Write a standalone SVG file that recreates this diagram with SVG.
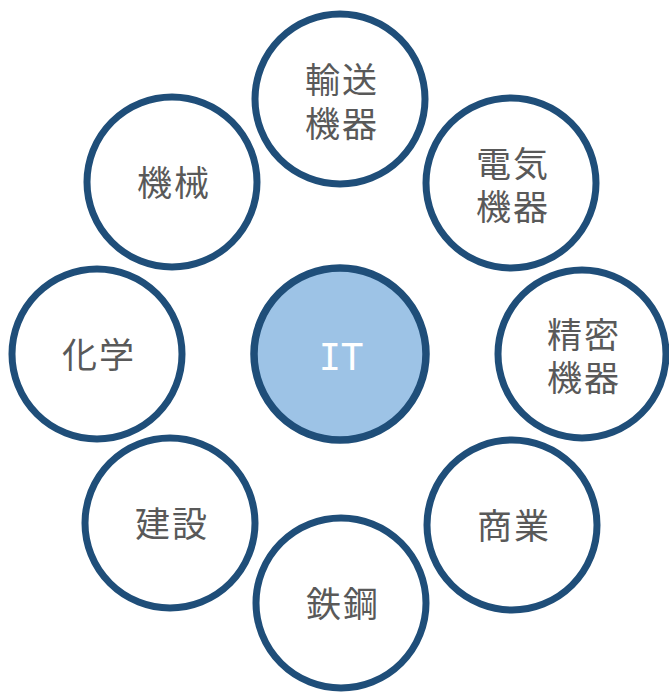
<svg xmlns="http://www.w3.org/2000/svg" width="669" height="694" viewBox="0 0 669 694">
<style>
.n{fill:#FFFFFF;stroke:#1F4E79;stroke-width:7}
.c{fill:#9DC3E6;stroke:#1F4E79;stroke-width:7.5}
.t{font-family:"Noto Sans CJK JP","Noto Sans CJK SC",sans-serif;font-size:35px;fill:#595959;text-anchor:middle;letter-spacing:2px}
.it{font-family:"DejaVu Sans Mono","Noto Sans CJK JP",monospace;font-size:37px;fill:#FFFFFF;text-anchor:middle}
</style>
<rect width="669" height="694" fill="#FFFFFF"/>
<g id="connectors"></g>
<g id="node-it"><circle class="c" cx="340" cy="354" r="86"/><text class="it" x="341" y="370">IT</text></g>
<g id="node-yuso"><circle class="n" cx="340" cy="99" r="85"/><text class="t"><tspan x="342" y="93">輸送</tspan><tspan x="342" y="137">機器</tspan></text></g>
<g id="node-denki"><circle class="n" cx="511" cy="183" r="85"/><text class="t"><tspan x="513" y="177">電気</tspan><tspan x="513" y="220">機器</tspan></text></g>
<g id="node-seimitsu"><circle class="n" cx="582" cy="354" r="84"/><text class="t"><tspan x="584" y="348">精密</tspan><tspan x="584" y="391">機器</tspan></text></g>
<g id="node-shogyo"><circle class="n" cx="512" cy="525" r="85"/><text class="t" x="514" y="539">商業</text></g>
<g id="node-tekko"><circle class="n" cx="341" cy="603" r="85"/><text class="t" x="343" y="617">鉄鋼</text></g>
<g id="node-kensetsu"><circle class="n" cx="170" cy="523" r="85"/><text class="t" x="172" y="537">建設</text></g>
<g id="node-kagaku"><circle class="n" cx="97" cy="354" r="85"/><text class="t" x="99" y="368">化学</text></g>
<g id="node-kikai"><circle class="n" cx="172" cy="182" r="85"/><text class="t" x="174" y="196">機械</text></g>
</svg>
